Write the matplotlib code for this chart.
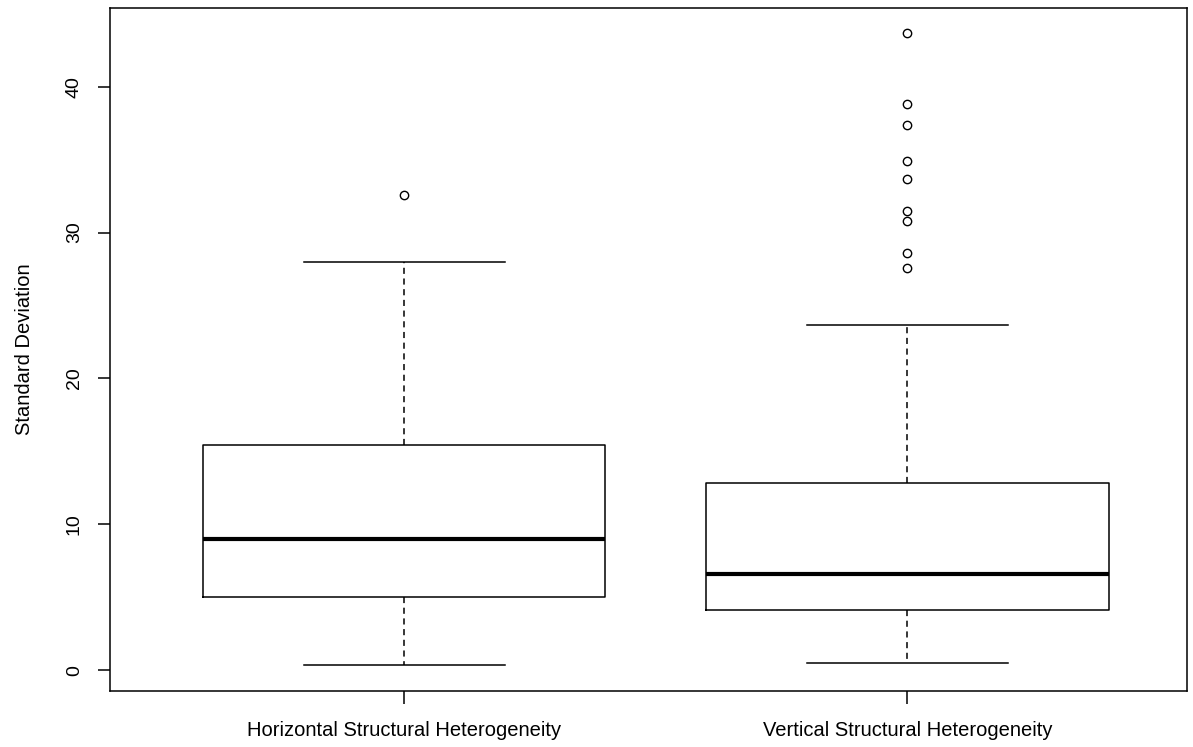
import matplotlib
matplotlib.use('Agg')
import matplotlib.pyplot as plt

# box statistics
groups = ['Horizontal Structural Heterogeneity', 'Vertical Structural Heterogeneity']
whislo = [0.38, 0.46]
q1 = [5.0, 4.12]
med = [8.98, 6.58]
q3 = [15.45, 12.83]
whishi = [28.0, 23.66]
fliers = [
    [32.6],
    [43.7, 38.8, 37.4, 34.9, 33.7, 31.5, 30.8, 28.6, 27.6],
]
yticks = [0, 10, 20, 30, 40]

plt.rcParams['font.family'] = ['Liberation Sans', 'DejaVu Sans']

fig = plt.figure(figsize=(11.93, 7.47), dpi=100)
ax = fig.add_axes([110/1193, (747-690.5)/747, (1187-110)/1193, (690.5-8)/747])

stats = []
for i in range(len(groups)):
    stats.append({'label': groups[i], 'whislo': whislo[i], 'q1': q1[i], 'med': med[i],
                  'q3': q3[i], 'whishi': whishi[i], 'fliers': fliers[i]})

ax.bxp(stats, positions=[1, 2], widths=0.8, showfliers=True,
       boxprops=dict(color='black', linewidth=1.1),
       medianprops=dict(color='black', linewidth=3),
       whiskerprops=dict(color='black', linewidth=1.1, linestyle=(0, (4, 3))),
       capprops=dict(color='black', linewidth=1.1),
       flierprops=dict(marker='o', markerfacecolor='none', markeredgecolor='black',
                       markersize=6, markeredgewidth=1))

ax.set_xlim(0.415, 2.556)
ax.set_ylim(-1.4, 45.4)
ax.set_yticks(yticks)
ax.set_yticklabels([str(t) for t in yticks], rotation=90, va='center', fontsize=14)
ax.set_xticks([1, 2])
ax.set_xticklabels(groups, fontsize=14.5)
ax.tick_params(axis='x', length=9, width=1.1, pad=13)
ax.tick_params(axis='y', length=8.6, width=1.1, pad=11)
ax.set_ylabel('Standard Deviation', fontsize=14.5, labelpad=23)
for s in ax.spines.values():
    s.set_linewidth(1.1)

fig.savefig('out.png', dpi=100)
